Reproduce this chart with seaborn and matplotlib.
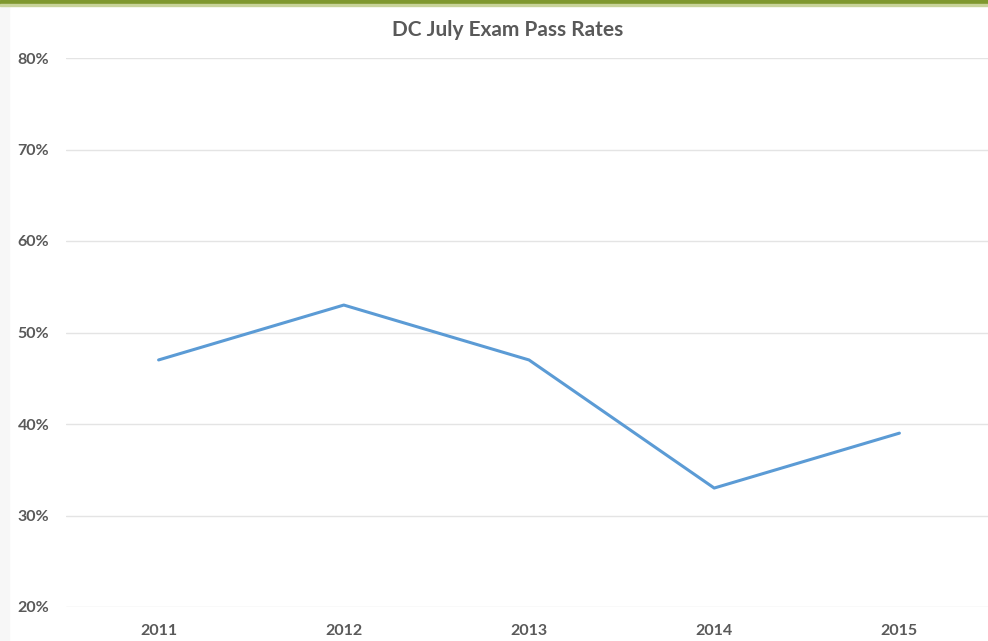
import matplotlib
matplotlib.use("Agg")
import matplotlib.pyplot as plt
import seaborn as sns
import pandas as pd
from matplotlib.patches import Rectangle

years = ["2011", "2012", "2013", "2014", "2015"]
pass_rates = [47, 53, 47, 33, 39]
y_ticks = [20, 30, 40, 50, 60, 70, 80]
y_tick_labels = ["20%", "30%", "40%", "50%", "60%", "70%", "80%"]

sns.set_theme(style="white")
plt.rcParams["font.family"] = ["Lato", "DejaVu Sans"]

df = pd.DataFrame({"Year": years, "Pass rate": pass_rates})

fig = plt.figure(figsize=(9.88, 6.41), dpi=100)
fig.patch.set_facecolor("white")
ax = fig.add_axes([66 / 988, 1 - 607 / 641, (992 - 66) / 988, (607 - 58) / 641])

sns.lineplot(data=df, x="Year", y="Pass rate", ax=ax, color="#5b9bd5",
             linewidth=2.2, sort=False)

ax.set_xlim(-0.5, 4.5)
ax.set_ylim(20, 80)
ax.set_yticks(y_ticks)
ax.set_yticklabels(y_tick_labels)
ax.grid(axis="y", color="#e4e4e4", linewidth=1)
ax.set_axisbelow(True)
for s in ax.spines.values():
    s.set_visible(False)
ax.set_xlabel("")
ax.set_ylabel("")
ax.tick_params(axis="both", length=0, labelsize=11.5, labelcolor="#595959")
ax.tick_params(axis="x", pad=12)
ax.tick_params(axis="y", pad=12)
for lbl in ax.get_xticklabels() + ax.get_yticklabels():
    lbl.set_fontweight("bold")

fig.text(508 / 988, 1 - 30 / 641, "DC July Exam Pass Rates", ha="center", va="center",
         fontsize=15, fontweight="bold", color="#595959")

# olive header band and faint left border
fig.patches.append(Rectangle((0, 1 - 4 / 641), 1, 4 / 641, transform=fig.transFigure,
                             color="#7f982f", zorder=5))
fig.patches.append(Rectangle((0, 1 - 6 / 641), 1, 2 / 641, transform=fig.transFigure,
                             color="#c8d39a", zorder=5))
fig.patches.append(Rectangle((0, 0), 9 / 988, 1 - 6 / 641, transform=fig.transFigure,
                             color="#f7f7f7", zorder=0))

fig.savefig("out.png", dpi=100, facecolor="white")
